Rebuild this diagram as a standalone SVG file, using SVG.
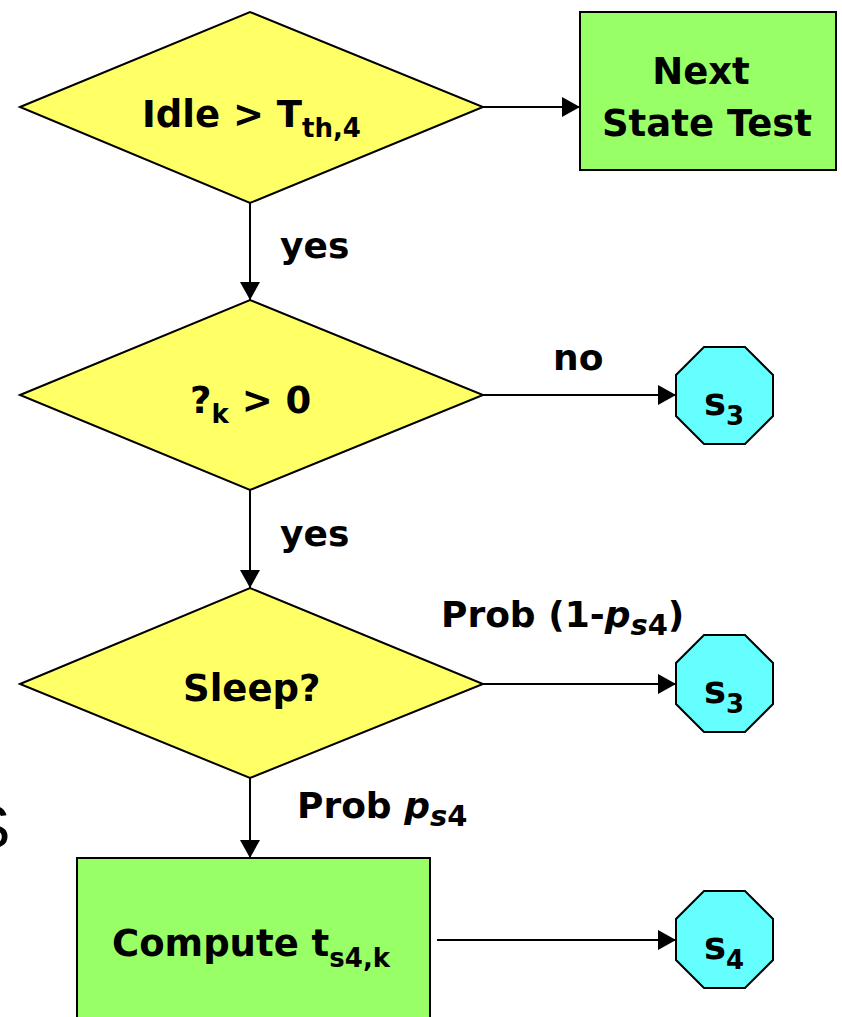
<svg xmlns="http://www.w3.org/2000/svg" width="842" height="1017" viewBox="0 0 842 1017">
<defs>
<marker id="arr" viewBox="0 0 18 20" refX="18" refY="10" markerWidth="18" markerHeight="20" markerUnits="userSpaceOnUse" orient="auto">
<path d="M0,0 L18,10 L0,20 Z" fill="#000"/>
</marker>
</defs>
<style>
.dia{fill:#FFFF66;stroke:#000;stroke-width:2}
.box{fill:#99FF66;stroke:#000;stroke-width:2}
.oct{fill:#66FFFF;stroke:#000;stroke-width:2}
.t{font-family:"DejaVu Sans",Verdana,sans-serif;font-weight:bold;font-size:37px;fill:#000}
.lbl{font-family:"DejaVu Sans",Verdana,sans-serif;font-weight:bold;font-size:36px;fill:#000}
.sub{font-size:26px}
.psub{font-size:29px}
.con{stroke:#000;stroke-width:2;fill:none;marker-end:url(#arr)}
</style>
<rect width="842" height="1017" fill="#fff"/>
<text x="-31" y="848" font-family="Liberation Sans,Arial,sans-serif" font-size="62" fill="#000">S</text>
<g id="connectors">
<line class="con" x1="483" y1="107" x2="580" y2="107"/>
<line class="con" x1="250" y1="203" x2="250" y2="300"/>
<line class="con" x1="483" y1="395" x2="676" y2="395"/>
<line class="con" x1="250" y1="490" x2="250" y2="588"/>
<line class="con" x1="483" y1="684" x2="676" y2="684"/>
<line class="con" x1="250" y1="778" x2="250" y2="858"/>
<line class="con" x1="437" y1="940" x2="676" y2="940"/>
<text class="lbl" x="280" y="258">yes</text>
<text class="lbl" x="553" y="370">no</text>
<text class="lbl" x="280" y="546">yes</text>
<text class="lbl" x="441" y="627">Prob (1-<tspan font-style="italic">p</tspan><tspan class="psub" font-style="italic" dy="8">s</tspan><tspan class="psub">4</tspan><tspan dy="-8">)</tspan></text>
<text class="lbl" x="297" y="818">Prob <tspan font-style="italic">p</tspan><tspan class="psub" font-style="italic" dy="8">s</tspan><tspan class="psub">4</tspan></text>
</g>
<g id="n1">
<polygon class="dia" points="20,107 250,12 483,107 250,203"/>
<text class="t" x="142" y="127">Idle &gt; T<tspan class="sub" dy="10">th,4</tspan></text>
</g>
<g id="n2">
<rect class="box" x="580" y="12" width="256" height="158"/>
<text class="t" x="701" y="84" text-anchor="middle">Next</text>
<text class="t" x="707" y="136" text-anchor="middle">State Test</text>
</g>
<g id="n3">
<polygon class="dia" points="20,395 250,300 483,395 250,490"/>
<text class="t" x="190" y="413">?<tspan class="sub" dy="10">k</tspan><tspan dy="-10"> &gt; 0</tspan></text>
</g>
<g id="n4">
<polygon class="oct" points="704,347 745,347 773,375 773,416 745,444 704,444 676,416 676,375"/>
<text class="t" x="704" y="415">s<tspan class="sub" dy="10">3</tspan></text>
</g>
<g id="n5">
<polygon class="dia" points="20,684 250,588 483,684 250,778"/>
<text class="t" x="183" y="701">Sleep?</text>
</g>
<g id="n6">
<polygon class="oct" points="704,635 745,635 773,663 773,704 745,732 704,732 676,704 676,663"/>
<text class="t" x="704" y="703">s<tspan class="sub" dy="10">3</tspan></text>
</g>
<g id="n7">
<rect class="box" x="77" y="858" width="353" height="180"/>
<text class="t" x="112" y="956">Compute t<tspan class="sub" dy="11">s4,k</tspan></text>
</g>
<g id="n8">
<polygon class="oct" points="704,891 745,891 773,919 773,960 745,988 704,988 676,960 676,919"/>
<text class="t" x="704" y="959">s<tspan class="sub" dy="10">4</tspan></text>
</g>
</svg>
